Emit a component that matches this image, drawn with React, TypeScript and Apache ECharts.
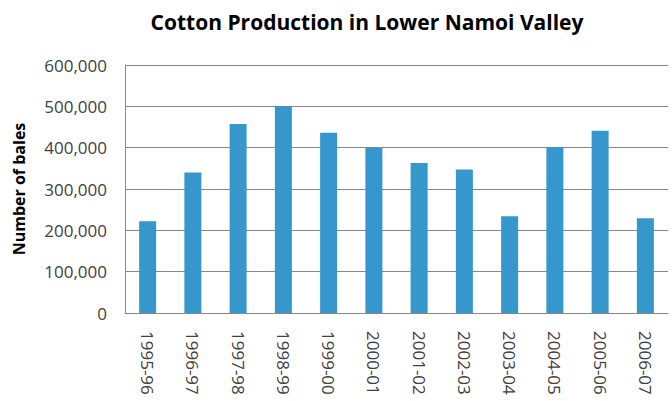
import React, { useEffect, useRef } from "react";
import * as echarts from "echarts";

// Cotton production per season, in bales
const seasons = [
  "1995-96", "1996-97", "1997-98", "1998-99", "1999-00", "2000-01",
  "2001-02", "2002-03", "2003-04", "2004-05", "2005-06", "2006-07",
];
const bales = [
  222000, 340000, 457000, 500000, 436000, 400000,
  363000, 347000, 234000, 401000, 441000, 229000,
];
const yTicks = { min: 0, max: 600000, interval: 100000 };

const FONT = "'Open Sans', 'Noto Sans', sans-serif";

export default function App() {
  const ref = useRef<HTMLDivElement>(null);

  useEffect(() => {
    if (!ref.current) return;
    const chart = echarts.init(ref.current, null, { renderer: "svg" });
    chart.setOption({
      animation: false,
      backgroundColor: "#ffffff",
      title: {
        text: "Cotton Production in Lower Namoi Valley",
        left: 362,
        top: 6,
        textAlign: "center",
        textStyle: {
          fontFamily: FONT,
          fontSize: 21,
          fontWeight: "bold",
          color: "#000000",
        },
      },
      grid: { left: 125, right: 4, top: 65, bottom: 88, containLabel: false },
      xAxis: {
        type: "category",
        data: seasons,
        axisLine: { show: true, lineStyle: { color: "#888888", width: 1 } },
        axisTick: { show: false },
        axisLabel: {
          rotate: -90,
          margin: 18,
          fontFamily: FONT,
          fontSize: 17,
          color: "#404040",
        },
      },
      yAxis: {
        type: "value",
        min: yTicks.min,
        max: yTicks.max,
        interval: yTicks.interval,
        name: "Number of bales",
        nameLocation: "middle",
        nameRotate: 90,
        nameGap: 98,
        nameTextStyle: {
          fontFamily: FONT,
          fontSize: 16,
          fontWeight: "bold",
          color: "#000000",
        },
        axisLine: { show: true, lineStyle: { color: "#888888", width: 1 } },
        axisTick: { show: false },
        splitLine: { show: true, lineStyle: { color: "#888888", width: 1 } },
        axisLabel: {
          margin: 18,
          fontFamily: FONT,
          fontSize: 17,
          color: "#404040",
          formatter: (v: number) => v.toLocaleString("en-US"),
        },
      },
      series: [
        {
          type: "bar",
          data: bales,
          barWidth: 17,
          itemStyle: { color: "#3597CC" },
        },
      ],
    });
    return () => chart.dispose();
  }, []);

  return (
    <div
      ref={ref}
      style={{ position: "fixed", left: 0, top: 0, width: 672, height: 401 }}
    />
  );
}
